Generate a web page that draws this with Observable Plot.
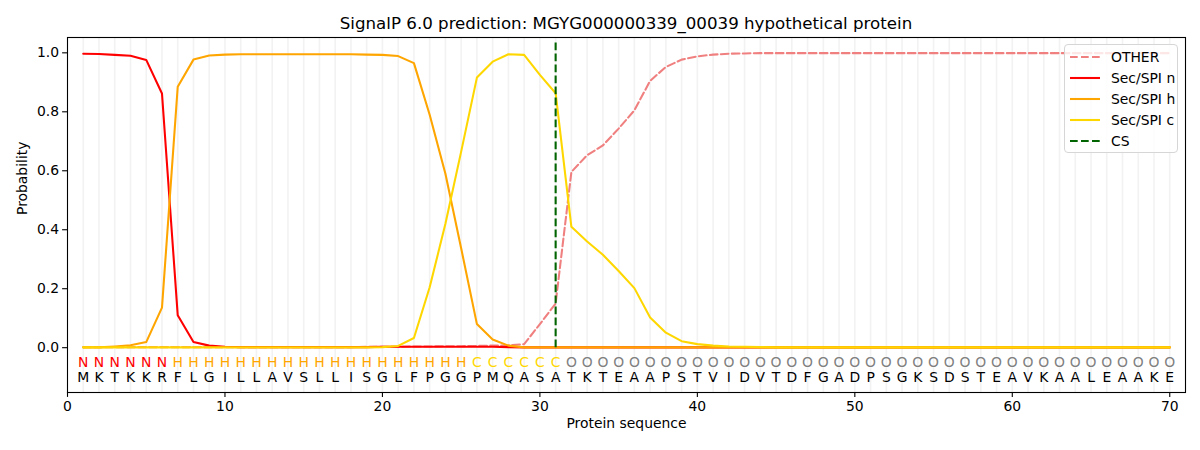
<!DOCTYPE html>
<html>
<head>
<meta charset="utf-8">
<script src="https://cdn.jsdelivr.net/npm/d3@7"></script>
<script src="https://cdn.jsdelivr.net/npm/@observablehq/plot@0.6"></script>
<style>
  html, body { margin: 0; padding: 0; background: white; }
  #wrap { position: relative; width: 1200px; height: 450px; font-family: "DejaVu Sans", sans-serif; color: black; }
  #title { position: absolute; left: 67px; width: 1118px; top: 13.7px; text-align: center; font-size: 16.67px; line-height: 20px; white-space: nowrap; }
  #legend { position: absolute; left: 1064px; top: 44px; width: 112px; height: 107px; border: 1px solid #d6d6d6; border-radius: 4px; background: rgba(255,255,255,0.8); box-sizing: content-box; }
  .row { position: absolute; left: 0; height: 20px; display: flex; align-items: center; font-size: 13.9px; white-space: nowrap; }
  .row svg { margin-left: 5px; margin-right: 11px; }
</style>
</head>
<body>
<div id="wrap">
  <div id="chart"></div>
  <div id="title">SignalP 6.0 prediction: MGYG000000339_00039 hypothetical protein</div>
  <div id="legend"></div>
</div>
<script>
// ---- data ----
const sequence = "MKTKKRFLGILLAVSLLISGLFPGGPMQASATKTEAAPSTVIDVTDFGADPSGKSDSTEAVKAALEAAKE".split("");
const regionLabels = "NNNNNNHHHHHHHHHHHHHHHHHHHCCCCCCOOOOOOOOOOOOOOOOOOOOOOOOOOOOOOOOOOOOOOO".split("");
const positions = d3.range(1, 71);

const otherProb = [
  0.002, 0.002, 0.002, 0.002, 0.002, 0.002, 0.002, 0.002, 0.002, 0.002,
  0.002, 0.002, 0.002, 0.002, 0.002, 0.002, 0.002, 0.002, 0.003, 0.003,
  0.003, 0.004, 0.004, 0.005, 0.005, 0.006, 0.007, 0.008, 0.012, 0.08,
  0.15, 0.596, 0.653, 0.686, 0.743, 0.805, 0.905, 0.952, 0.977, 0.988,
  0.994, 0.997, 0.998, 0.999, 0.999, 0.999, 0.999, 0.999, 0.999, 0.999,
  0.999, 0.999, 0.999, 0.999, 0.999, 0.999, 0.999, 0.999, 0.999, 0.999,
  0.999, 0.999, 0.999, 0.999, 0.999, 0.999, 0.999, 0.999, 0.999, 0.999
];
const nProb = [
  0.997, 0.996, 0.993, 0.99, 0.976, 0.862, 0.11, 0.019, 0.007, 0.003,
  0.002, 0.002, 0.002, 0.002, 0.002, 0.002, 0.002, 0.002, 0.002, 0.003,
  0.003, 0.003, 0.003, 0.003, 0.003, 0.003, 0.003, 0.002, 0.001, 0.001,
  0.001, 0.001, 0.001, 0.001, 0.001, 0.001, 0.001, 0.001, 0.001, 0.001,
  0.001, 0.001, 0.001, 0.001, 0.001, 0.001, 0.001, 0.001, 0.001, 0.001,
  0.001, 0.001, 0.001, 0.001, 0.001, 0.001, 0.001, 0.001, 0.001, 0.001,
  0.001, 0.001, 0.001, 0.001, 0.001, 0.001, 0.001, 0.001, 0.001, 0.001
];
const hProb = [
  0.001, 0.001, 0.004, 0.008, 0.019, 0.136, 0.885, 0.977, 0.991, 0.994,
  0.995, 0.995, 0.995, 0.995, 0.995, 0.995, 0.995, 0.995, 0.994, 0.993,
  0.989, 0.965, 0.79, 0.59, 0.337, 0.08, 0.028, 0.007, 0.001, 0.001,
  0.001, 0.001, 0.001, 0.001, 0.001, 0.001, 0.001, 0.001, 0.001, 0.001,
  0.001, 0.001, 0.001, 0.001, 0.001, 0.001, 0.001, 0.001, 0.001, 0.001,
  0.001, 0.001, 0.001, 0.001, 0.001, 0.001, 0.001, 0.001, 0.001, 0.001,
  0.001, 0.001, 0.001, 0.001, 0.001, 0.001, 0.001, 0.001, 0.001, 0.001
];
const cProb = [
  0.001, 0.001, 0.001, 0.001, 0.001, 0.001, 0.001, 0.001, 0.001, 0.001,
  0.001, 0.001, 0.001, 0.001, 0.001, 0.001, 0.001, 0.001, 0.001, 0.002,
  0.006, 0.033, 0.205, 0.42, 0.665, 0.916, 0.97, 0.995, 0.993, 0.925,
  0.863, 0.41, 0.36, 0.315, 0.26, 0.202, 0.102, 0.051, 0.022, 0.012,
  0.007, 0.004, 0.003, 0.002, 0.001, 0.001, 0.001, 0.001, 0.001, 0.001,
  0.001, 0.001, 0.001, 0.001, 0.001, 0.001, 0.001, 0.001, 0.001, 0.001,
  0.001, 0.001, 0.001, 0.001, 0.001, 0.001, 0.001, 0.001, 0.001, 0.001
];
const csPosition = 31;
const xTicks = [0, 10, 20, 30, 40, 50, 60, 70];
const yTicks = [0, 0.2, 0.4, 0.6, 0.8, 1.0];
const seriesNames = ["OTHER", "Sec/SPI n", "Sec/SPI h", "Sec/SPI c", "CS"];
const seriesColors = ["lightcoral", "red", "orange", "gold", "darkgreen"];
const labelColors = {N: "red", H: "orange", C: "gold", O: "gray"};

// ---- table ----
const rows = positions.map((p, i) => ({
  pos: p, aa: sequence[i], region: regionLabels[i],
  other: otherProb[i], n: nProb[i], h: hProb[i], c: cProb[i]
}));

const dash = "7.7,3.3";
const lw = 2.08;

const chart = Plot.plot({
  width: 1200,
  height: 450,
  marginLeft: 67,
  marginRight: 15,
  marginTop: 37,
  marginBottom: 58,
  style: {fontFamily: "DejaVu Sans, sans-serif", fontSize: "13.9px", color: "black", background: "white", overflow: "visible"},
  x: {domain: [0, 71]},
  y: {domain: [-0.152, 1.052]},
  color: {type: "identity"},
  marks: [
    Plot.ruleX(positions, {x: d => d, stroke: "#808080", strokeOpacity: 0.1, strokeWidth: 1.6}),
    Plot.line(rows, {x: "pos", y: "other", stroke: seriesColors[0], strokeWidth: lw, strokeDasharray: dash}),
    Plot.line(rows, {x: "pos", y: "n", stroke: seriesColors[1], strokeWidth: lw}),
    Plot.line(rows, {x: "pos", y: "h", stroke: seriesColors[2], strokeWidth: lw}),
    Plot.line(rows, {x: "pos", y: "c", stroke: seriesColors[3], strokeWidth: lw}),
    Plot.ruleX([csPosition], {x: d => d, y1: 0, y2: 1.037, stroke: seriesColors[4], strokeWidth: lw, strokeDasharray: dash}),
    Plot.text(rows, {x: "pos", y: () => -0.05, text: "region", fill: d => labelColors[d.region], fontSize: 13.9}),
    Plot.text(rows, {x: "pos", y: () => -0.1, text: "aa", fill: "black", fontSize: 13.9}),
    Plot.frame({stroke: "black", strokeWidth: 1.1}),
    Plot.axisX({ticks: xTicks, tickSize: 4.9, tickPadding: 3.5, tickFormat: d3.format("d"), label: null, strokeWidth: 1.1}),
    Plot.axisY({ticks: yTicks, tickSize: 4.9, tickPadding: 3.5, tickFormat: d3.format(".1f"), label: null, strokeWidth: 1.1}),
    Plot.text(["Protein sequence"], {frameAnchor: "bottom", dy: 35, text: d => d, fontSize: 13.9}),
    Plot.text(["Probability"], {frameAnchor: "left", dx: -45, rotate: -90, text: d => d, fontSize: 13.9})
  ]
});
document.getElementById("chart").appendChild(chart);

// ---- legend ----
const legend = document.getElementById("legend");
const rowCenters = [12.3, 33, 53.7, 74.7, 96.3];
seriesNames.forEach((name, i) => {
  const r = document.createElement("div");
  r.className = "row";
  r.style.top = (rowCenters[i] - 10) + "px";
  const dashed = (i === 0 || i === 4);
  r.innerHTML = `<svg width="30" height="6"><line x1="0" x2="30" y1="3" y2="3" stroke="${seriesColors[i]}" stroke-width="${lw}" ${dashed ? `stroke-dasharray="${dash}"` : ""}/></svg><span>${name}</span>`;
  legend.appendChild(r);
});
</script>
</body>
</html>
